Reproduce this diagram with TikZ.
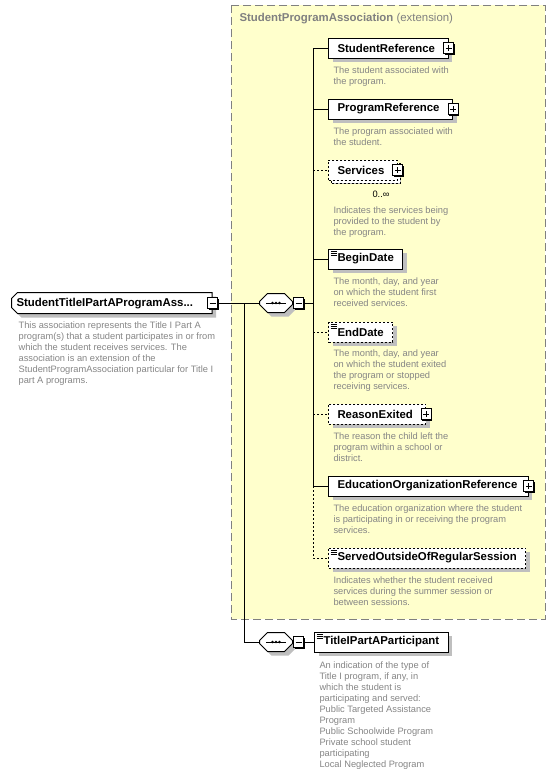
\documentclass[tikz,border=0pt]{standalone}
\usepackage{fontspec}
\setmainfont{Liberation Sans}
\usepackage{tikz}
\usetikzlibrary{positioning,shapes.misc,shadows}

\definecolor{extfill}{HTML}{FFFFCC}
\definecolor{extline}{HTML}{808080}
\definecolor{descgray}{HTML}{858585}
\newcommand{\descfont}{\fontsize{9.3}{11}\selectfont}
\newcommand{\labelfont}{\fontsize{11.4}{13}\selectfont\bfseries}
\newcommand{\kids}{\hspace*{4pt}}

\begin{document}
\begin{tikzpicture}[x=1pt,y=-1pt,line width=1pt,
            shade/.style={drop shadow={shadow xshift=4pt,shadow yshift=-4pt,fill=black!25,opacity=1}},
            elem/.style={draw,fill=white,shade,minimum height=20pt,inner xsep=9pt,inner ysep=0pt,anchor=west,font=\labelfont},
            opt/.style={dash pattern=on 2pt off 2pt},
            simple/.style={path picture={
                \foreach \k in {2,4,6}
                    \draw[solid,line width=0.7pt] ([shift={(2,\k)}]path picture bounding box.north west) -- ++(6,0);}},
            root/.style={draw,fill=white,shade,anchor=west,font=\labelfont,chamfered rectangle,
                chamfered rectangle corners={north west,south west},
                chamfered rectangle xsep=3pt,chamfered rectangle ysep=3pt,
                text height=8.5pt,text depth=2.5pt,inner xsep=2pt,inner ysep=2pt},
            seq/.style={draw,fill=white,shade,chamfered rectangle,chamfered rectangle xsep=4pt,chamfered rectangle ysep=4pt,
                inner xsep=12.5pt,inner ysep=5.5pt,
                path picture={
                    \draw ([xshift=-10pt]path picture bounding box.center) -- ([xshift=10pt]path picture bounding box.center);
                    \foreach \d in {-3.5,0,3.5}
                        \fill[black] ([xshift=\d pt]path picture bounding box.center) circle (1.4pt);}},
            box/.style={draw,solid,fill=white,minimum width=10pt,minimum height=11pt,inner sep=0pt,
                drop shadow={shadow xshift=1pt,shadow yshift=-1pt,fill=black,opacity=1}},
            plus/.style={box,path picture={
                \draw ([xshift=-3pt]path picture bounding box.center) -- ([xshift=3pt]path picture bounding box.center);
                \draw ([yshift=-3pt]path picture bounding box.center) -- ([yshift=3pt]path picture bounding box.center);}},
            minus/.style={box,path picture={
                \draw ([xshift=-3pt]path picture bounding box.center) -- ([xshift=3pt]path picture bounding box.center);}},
            desc/.style={text=descgray,font=\descfont,align=left,inner sep=0pt}]

            \useasboundingbox (0,0) rectangle (556,774);

            % extension group
            \draw[extline,fill=extfill,dash pattern=on 8pt off 4pt] (231,5) rectangle (545,619);
            \node [anchor=west,text=extline,font=\labelfont,inner sep=0pt] (ext) at (239,19)
                {StudentProgramAssociation \mdseries(extension)};

            % root element and compositors
            \node [root] (root) at (11,303) {StudentTitleIPartAProgramAss...\hspace*{14pt}};
            \node [minus] (rootm) at (root.east) {};
            \node [desc] (root-d) [below right=10pt and 4pt of root.south west] {This association represents the Title I Part A\\program(s) that a student participates in or from\\which the student receives services. The\\association is an extension of the\\StudentProgramAssociation particular for Title I\\part A programs.};

            \node [seq] (seq1) at (276,303) {};
            \node [minus] (seq1m) [right=0pt of seq1] {};
            \node [seq] (seq2) at (276,642) {};
            \node [minus] (seq2m) [right=0pt of seq2] {};
            \coordinate (fork) at (244,303);
            \coordinate (spine) at (313,303);

            % children of the extension
            \node [elem] (sref) at (328,48) {StudentReference\kids};
            \node [plus] (sref-x) at (sref.east) {};
            \node [elem] (pref) at (328,109) {ProgramReference\kids};
            \node [plus] (pref-x) at (pref.east) {};
            \node [elem,opt,copy shadow={shadow xshift=3pt,shadow yshift=-3pt}] (serv) at (328,170) {Services\kids};
            \node [plus] (serv-x) at (serv.east) {};
            \node [font=\descfont,inner sep=0pt] (serv-n) at (381,194) {0..∞};
            \node [elem,simple] (begin) at (328,259) {BeginDate};
            \node [elem,opt,simple] (end) at (328,332) {EndDate};
            \node [elem,opt] (reason) at (328,414) {ReasonExited\kids};
            \node [plus] (reason-x) at (reason.east) {};
            \node [elem] (edorg) at (328,486) {EducationOrganizationReference\hspace*{2pt}};
            \node [plus] (edorg-x) at (edorg.east) {};
            \node [elem,opt,simple] (served) at (328,558) {ServedOutsideOfRegularSession};
            \node [elem,simple] (tipa) at (314,642) {TitleIPartAParticipant};

            \node [desc] (sref-d) [below right=8pt and 5pt of sref.south west] {The student associated with\\the program.};
            \node [desc] (pref-d) [below right=8pt and 5pt of pref.south west] {The program associated with\\the student.};
            \node [desc] (serv-d) [below right=26pt and 5pt of serv.south west] {Indicates the services being\\provided to the student by\\the program.};
            \node [desc] (begin-d) [below right=8pt and 5pt of begin.south west] {The month, day, and year\\on which the student first\\received services.};
            \node [desc] (end-d) [below right=7pt and 5pt of end.south west] {The month, day, and year\\on which the student exited\\the program or stopped\\receiving services.};
            \node [desc] (reason-d) [below right=8pt and 5pt of reason.south west] {The reason the child left the\\program within a school or\\district.};
            \node [desc] (edorg-d) [below right=8pt and 5pt of edorg.south west] {The education organization where the student\\is participating in or receiving the program\\services.};
            \node [desc] (served-d) [below right=8pt and 5pt of served.south west] {Indicates whether the student received\\services during the summer session or\\between sessions.};
            \node [desc] (tipa-d) [below right=9pt and 5pt of tipa.south west] {An indication of the type of\\Title I program, if any, in\\which the student is\\participating and served:\\Public Targeted Assistance\\Program\\Public Schoolwide Program\\Private school student\\participating\\Local Neglected Program};

            % connectors
            \draw (rootm) -- (seq1);
            \draw (fork) |- (seq2);
            \draw (seq2m) -- (tipa);
            \draw (seq1m) -- (spine);
            \draw (spine |- sref) -- (spine |- edorg);
            \draw (spine |- sref) -- (sref);
            \draw (spine |- pref) -- (pref);
            \draw[opt] (spine |- serv) -- (serv);
            \draw (spine |- begin) -- (begin);
            \draw[opt] (spine |- end) -- (end);
            \draw[opt] (spine |- reason) -- (reason);
            \draw (spine |- edorg) -- (edorg);
            \draw[opt] (spine |- edorg) |- (served);
        \end{tikzpicture}
\end{document}
